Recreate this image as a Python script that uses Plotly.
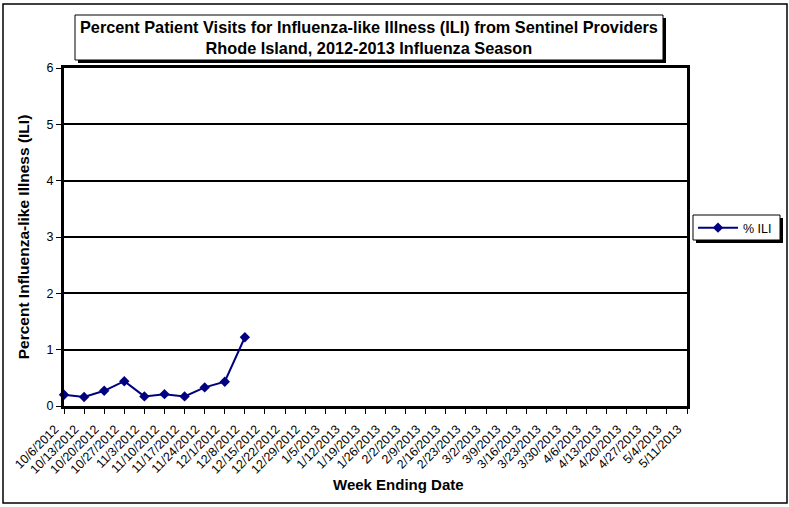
import plotly.graph_objects as go

# week ending dates, 2012-2013 season
weeks = [
    '10/6/2012', '10/13/2012', '10/20/2012', '10/27/2012', '11/3/2012',
    '11/10/2012', '11/17/2012', '11/24/2012', '12/1/2012', '12/8/2012',
    '12/15/2012', '12/22/2012', '12/29/2012', '1/5/2013', '1/12/2013',
    '1/19/2013', '1/26/2013', '2/2/2013', '2/9/2013', '2/16/2013',
    '2/23/2013', '3/2/2013', '3/9/2013', '3/16/2013', '3/23/2013',
    '3/30/2013', '4/6/2013', '4/13/2013', '4/20/2013', '4/27/2013',
    '5/4/2013', '5/11/2013',
]
ili = [0.20, 0.16, 0.27, 0.44, 0.17, 0.21, 0.17, 0.33, 0.43, 1.22]
ili_weeks = weeks[:len(ili)]

FONT = 'Liberation Sans, Arial, sans-serif'
W, H = 789, 507
L, R, T, B = 64, 102, 68, 101
pw, ph = W - L - R, H - T - B


def px(x):
    # pixel -> paper x
    return (x - L) / pw


def py(y):
    # pixel -> paper y
    return (H - B - y) / ph


def box(x0, y0, x1, y1, shadow=3):
    # white box with a black drop shadow (excel style)
    return [
        dict(type='rect', xref='paper', yref='paper',
             x0=px(x0 + shadow), x1=px(x1 + shadow), y0=py(y0 + shadow), y1=py(y1 + shadow),
             fillcolor='black', line=dict(width=0)),
        dict(type='rect', xref='paper', yref='paper',
             x0=px(x0), x1=px(x1), y0=py(y0), y1=py(y1),
             fillcolor='white', line=dict(color='black', width=1)),
    ]


fig = go.Figure()
fig.add_trace(go.Scatter(
    x=ili_weeks, y=ili,
    mode='lines+markers',
    name='% ILI',
    line=dict(color='#000080', width=2),
    marker=dict(symbol='diamond', size=8, color='#000080'),
    cliponaxis=False,
))

shapes = [
    # outer chart frame
    dict(type='rect', xref='paper', yref='paper', x0=px(3), x1=px(787), y0=py(4), y1=py(503),
         line=dict(color='black', width=1.5), layer='below'),
]
shapes += box(75, 15, 663, 60)
shapes += box(693, 215, 780, 240)

fig.update_layout(
    width=W, height=H,
    margin=dict(l=L, r=R, t=T, b=B, autoexpand=False),
    paper_bgcolor='white', plot_bgcolor='white',
    font=dict(family=FONT, color='black', size=12),
    shapes=shapes,
    annotations=[
        dict(xref='paper', yref='paper', x=px(369), y=py(37), xanchor='center', yanchor='middle',
             text='<b>Percent Patient Visits for Influenza-like Illness (ILI) from Sentinel Providers'
                  '<br>Rhode Island, 2012-2013 Influenza Season</b>',
             showarrow=False, font=dict(size=16.3, family=FONT), align='center'),
        dict(xref='paper', yref='paper', x=px(398), y=py(484), xanchor='center', yanchor='middle',
             text='<b>Week Ending Date</b>', showarrow=False, font=dict(size=15, family=FONT)),
    ],
    showlegend=True,
    legend=dict(
        x=px(693), y=py(213), xanchor='left', yanchor='top',
        bgcolor='rgba(0,0,0,0)', borderwidth=0,
        font=dict(size=12.5, family=FONT),
        itemwidth=40,
    ),
    xaxis=dict(
        type='category', categoryorder='array', categoryarray=weeks,
        tickmode='array', tickvals=weeks, ticktext=weeks,
        range=[0, len(weeks) - 1], automargin=False,
        tickangle=-45, tickfont=dict(size=12.5),
        ticklabelstandoff=3, ticklabelshift=-9,
        ticks='outside', ticklen=5, tickwidth=1, tickcolor='black',
        showline=True, linecolor='black', linewidth=3, mirror=True,
        showgrid=False, zeroline=False,
    ),
    yaxis=dict(
        range=[0, 6], dtick=1, automargin=False,
        ticks='outside', ticklen=5, tickwidth=1, tickcolor='black',
        ticklabelstandoff=0,
        showline=True, linecolor='black', linewidth=3, mirror=True,
        showgrid=True, gridcolor='black', gridwidth=1.5, zeroline=False,
        tickfont=dict(size=12.5),
        title=dict(text='<b>Percent Influenza-like Illness (ILI)</b>', font=dict(size=15.5), standoff=14),
    ),
)

fig.write_html('out.html', config={'displayModeBar': False},
               post_script="document.body.style.margin='0';")
